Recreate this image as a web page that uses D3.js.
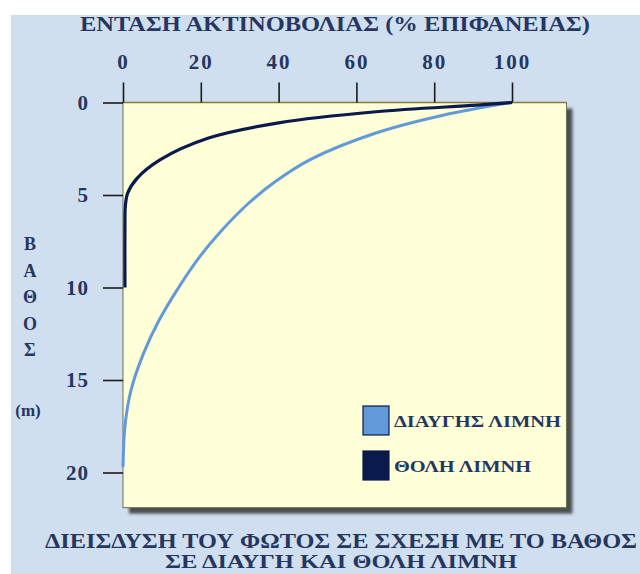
<!DOCTYPE html>
<html>
<head>
<meta charset="utf-8">
<script src="https://cdn.jsdelivr.net/npm/d3@7"></script>
<style>
  html, body { margin: 0; padding: 0; background: #ffffff; }
  svg { display: block; }
  text { font-family: "Liberation Serif", "DejaVu Serif", serif; font-weight: bold; fill: #26365f; }
</style>
</head>
<body>
<svg id="chart" width="640" height="574"></svg>
<script>
// ---- Data ----
const xTicks = [0, 20, 40, 60, 80, 100];          // % of surface radiation
const yTicks = [0, 5, 10, 15, 20];                // depth (m)
const clearLakeIntensity = [100, 82, 65, 48, 39, 32, 25, 19.5, 14, 9.2, 5.2, 2, 0.5, 0];
const clearLakeDepth     = [0, 0.7, 1.65, 3.1, 4.3, 5.5, 7, 8.4, 10.1, 11.8, 13.6, 15.6, 17.5, 19.7];
const turbidLakeIntensity = [100, 91, 65, 40, 22, 9.5, 3.6, 1.2, 0.6, 0.5, 0.5];
const turbidLakeDepth     = [0, 0.14, 0.5, 1.1, 1.92, 3.1, 4.1, 4.9, 5.6, 6.5, 10];
const seriesNames = ["ΔΙΑΥΓΗΣ ΛΙΜΝΗ", "ΘΟΛΗ ΛΙΜΝΗ"];
const topTitle = "ΕΝΤΑΣΗ ΑΚΤΙΝΟΒΟΛΙΑΣ (% ΕΠΙΦΑΝΕΙΑΣ)";
const yTitleLetters = ["Β", "Α", "Θ", "Ο", "Σ"];
const yUnit = "(m)";
const bottomTitle = ["ΔΙΕΙΣΔΥΣΗ ΤΟΥ ΦΩΤΟΣ ΣΕ ΣΧΕΣΗ ΜΕ ΤΟ ΒΑΘΟΣ", "ΣΕ ΔΙΑΥΓΗ ΚΑΙ ΘΟΛΗ ΛΙΜΝΗ"];

// ---- Layout ----
const svg = d3.select("#chart");
const x = d3.scaleLinear().domain([0, 100]).range([123, 512]);
const y = d3.scaleLinear().domain([0, 20]).range([102.5, 472.5]);
const xMaxPlot = 114, yMaxPlot = 21.9;
const colors = ["#629ad9", "#0b1a4c"];

// background
svg.append("rect").attr("x", 11).attr("y", 15).attr("width", 629).attr("height", 559).attr("fill", "#cfdff0");

// shadow filter
const defs = svg.append("defs");
defs.append("filter").attr("id", "blur").attr("x", "-10%").attr("y", "-10%").attr("width", "120%").attr("height", "120%")
  .append("feGaussianBlur").attr("stdDeviation", 1.6);

// plot shadow + panel
svg.append("rect")
  .attr("x", x(0) + 6).attr("y", y(0) + 6)
  .attr("width", x(xMaxPlot) - x(0)).attr("height", y(yMaxPlot) - y(0))
  .attr("fill", "#485050").attr("filter", "url(#blur)");
svg.append("rect")
  .attr("x", x(0)).attr("y", y(0))
  .attr("width", x(xMaxPlot) - x(0)).attr("height", y(yMaxPlot) - y(0))
  .attr("fill", "#ffffd8").attr("stroke", "#6f6f58").attr("stroke-width", 1);
svg.append("line")
  .attr("x1", x(0)).attr("x2", x(xMaxPlot)).attr("y1", y(0)).attr("y2", y(0))
  .attr("stroke", "#8d7a3a").attr("stroke-width", 1.5);

// top axis
const xAxis = d3.axisTop(x).tickValues(xTicks).tickSize(20).tickPadding(15).tickFormat(d3.format("d"));
const gx = svg.append("g").attr("transform", `translate(0,${y(0)})`).call(xAxis);
gx.select(".domain").remove();
gx.selectAll(".tick line").attr("stroke", "#1a1a1a").attr("stroke-width", 1.6);
gx.selectAll(".tick text").attr("font-size", 21).attr("font-family", null).attr("fill", null)
  .attr("letter-spacing", 2).attr("dy", "0.05em");

// left axis
const yAxis = d3.axisLeft(y).tickValues(yTicks).tickSize(20).tickPadding(14).tickFormat(d3.format("d"));
const gy = svg.append("g").attr("transform", `translate(${x(0)},0)`).call(yAxis);
gy.select(".domain").remove();
gy.selectAll(".tick line").attr("stroke", "#1a1a1a").attr("stroke-width", 1.6);
gy.selectAll(".tick text").attr("font-size", 21).attr("font-family", null).attr("fill", null)
  .attr("letter-spacing", 1);

// curves
const smooth = d3.line().x(d => x(d[0])).y(d => y(d[1])).curve(d3.curveCatmullRom.alpha(0.5));
const clear = clearLakeIntensity.map((v, i) => [v, clearLakeDepth[i]]);
const turbid = turbidLakeIntensity.map((v, i) => [v, turbidLakeDepth[i]]);
svg.append("path").datum(clear).attr("d", smooth).attr("fill", "none")
  .attr("stroke", colors[0]).attr("stroke-width", 3);
svg.append("path").datum(turbid).attr("d", smooth).attr("fill", "none")
  .attr("stroke", colors[1]).attr("stroke-width", 3.2).attr("stroke-linecap", "butt");

// titles
svg.append("text").attr("x", 335).attr("y", 31).attr("text-anchor", "middle")
  .attr("font-size", 21).attr("textLength", 510).attr("lengthAdjust", "spacingAndGlyphs").text(topTitle);

svg.append("g").selectAll("text").data(yTitleLetters).join("text")
  .attr("x", 30).attr("y", (d, i) => 250 + i * 26.5).attr("text-anchor", "middle")
  .attr("font-size", 18).text(d => d);
svg.append("text").attr("x", 28).attr("y", 416).attr("text-anchor", "middle")
  .attr("font-size", 17).text(yUnit);

svg.append("text").attr("x", 45).attr("y", 548)
  .attr("font-size", 21).attr("textLength", 592).attr("lengthAdjust", "spacingAndGlyphs").text(bottomTitle[0]);
svg.append("text").attr("x", 341).attr("y", 568).attr("text-anchor", "middle")
  .attr("font-size", 19).attr("textLength", 352).attr("lengthAdjust", "spacingAndGlyphs").text(bottomTitle[1]);

// legend
const legend = svg.append("g");
const legendY = [406, 451];
const legendLen = [167, 137];
seriesNames.forEach((name, i) => {
  legend.append("rect").attr("x", 363).attr("y", legendY[i]).attr("width", 26).attr("height", 29)
    .attr("fill", colors[i]).attr("stroke", "#0b1a4c").attr("stroke-width", 1.2);
  legend.append("text").attr("x", 394).attr("y", legendY[i] + 21)
    .attr("font-size", 16).attr("textLength", legendLen[i]).attr("lengthAdjust", "spacingAndGlyphs").text(name);
});
</script>
</body>
</html>
